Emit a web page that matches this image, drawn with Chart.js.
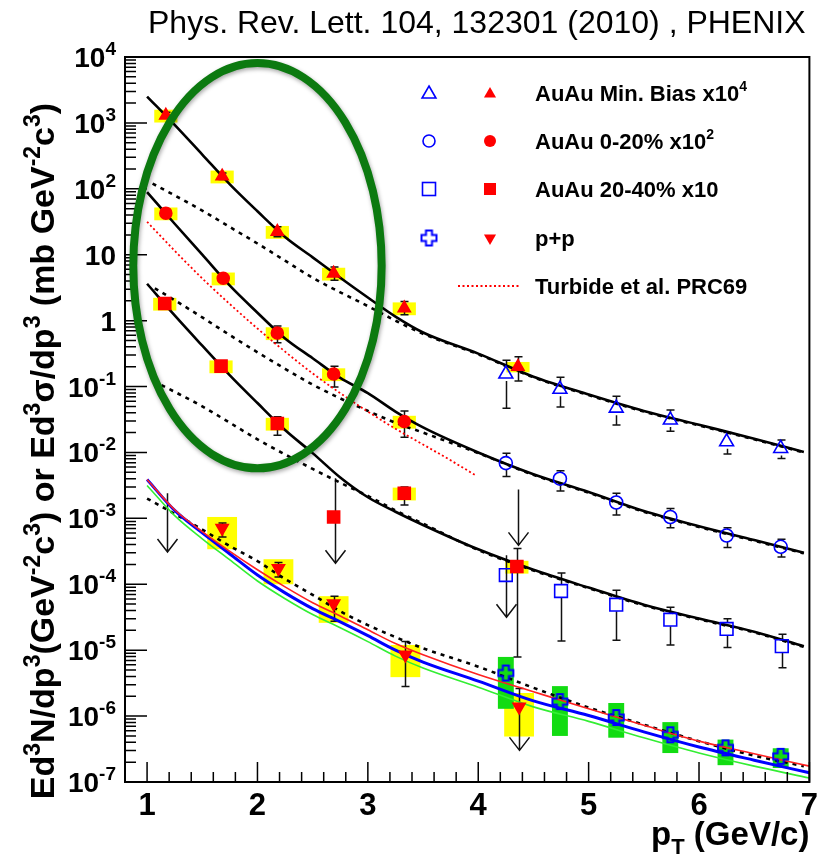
<!DOCTYPE html>
<html>
<head>
<meta charset="utf-8">
<script src="https://cdn.jsdelivr.net/npm/chart.js@4.4.1/dist/chart.umd.min.js"></script>
<style>
  html, body { margin: 0; padding: 0; background: #fff; }
  #wrap { width: 820px; height: 857px; position: relative; }
</style>
</head>
<body>
<div id="wrap"><canvas id="spectra"></canvas></div>
<script>
// ---- measured points ----
// AuAu Min. Bias x10^4
const ptMB = [1.17, 1.68, 2.18, 2.69, 3.33, 4.36];
const mbRed = [1.3e3, 155, 22.4, 5.2, 1.55, 0.20];
const mbRedLo = [1.2e3, 138, 18.8, 4.1, 1.23, 0.121];
const mbRedHi = [1.45e3, 174, 26.6, 6.5, 1.95, 0.283];
const mbRedSys = [0.22, 0.22, 0.22, 0.22, 0.22, 0.18];
const ptMBHi = [4.25, 4.74, 5.25, 5.74, 6.25, 6.74];
const mbBlue = [0.155, 0.091, 0.047, 0.031, 0.0145, 0.0115];
const mbBlueLo = [0.047, 0.049, 0.026, 0.021, 0.0095, 0.0081];
const mbBlueHi = [0.25, 0.138, 0.071, 0.044, 0.020, 0.0155];

// AuAu 0-20% x10^2
const pt020 = [1.17, 1.69, 2.18, 2.69, 3.33];
const c020Red = [42.7, 4.4, 0.65, 0.155, 0.0295];
const c020RedLo = [39.0, 4.0, 0.46, 0.098, 0.017];
const c020RedHi = [46.7, 4.9, 0.83, 0.204, 0.0427];
const c020RedSys = [0.22, 0.22, 0.22, 0.22, 0.22];
const pt020Hi = [4.25, 4.74, 5.25, 5.74, 6.25, 6.74];
const c020Blue = [0.0069, 0.0040, 0.00174, 0.00105, 0.00055, 0.00037];
const c020BlueLo = [0.0043, 0.0026, 0.00112, 0.00072, 0.00036, 0.00026];
const c020BlueHi = [0.0097, 0.0053, 0.0024, 0.00141, 0.00072, 0.00048];

// AuAu 20-40% x10
const pt2040 = [1.16, 1.67, 2.18, 2.69, 3.33, 4.35];
const c2040Red = [1.82, 0.204, 0.0275, 0.00105, 0.0024, 1.86e-4];
const c2040RedLo = [1.70, 0.187, 0.0182, null, 0.00159, 7.9e-6];
const c2040RedHi = [1.95, 0.222, 0.0347, null, 0.0030, 3.5e-4];
const c2040RedSys = [0.22, 0.22, 0.22, 0, 0.22, 0.22];
const pt2040Hi = [4.25, 4.75, 5.25, 5.74, 6.25, 6.75];
const c2040Blue = [1.38e-4, 7.9e-5, 4.9e-5, 2.9e-5, 2.1e-5, 1.15e-5];
const c2040BlueLo = [null, 1.38e-5, 1.42e-5, 1.2e-5, 1.1e-5, 5.4e-6];
const c2040BlueHi = [null, 1.48e-4, 8.1e-5, 4.5e-5, 3.0e-5, 1.74e-5];

// p+p
const ptPP = [1.68, 2.19, 2.69, 3.34, 4.37];
const ppRed = [7.1e-4, 1.74e-4, 5.1e-5, 8.5e-6, 1.38e-6];
const ppRedLo = [5.2e-4, 1.29e-4, 2.75e-5, 2.8e-6, null];
const ppRedHi = [8.5e-4, 2.14e-4, 6.6e-5, 1.35e-5, null];
const ppRedSysLo = [3.4e-4, 1.0e-4, 2.6e-5, 3.9e-6, 4.9e-7];
const ppRedSysHi = [1.05e-3, 2.4e-4, 6.6e-5, 1.2e-5, 2.24e-6];
const ptPPHi = [4.25, 4.74, 5.25, 5.74, 6.24, 6.74];
const ppBlue = [4.5e-6, 1.66e-6, 9.5e-7, 5.2e-7, 3.3e-7, 2.45e-7];
const ppBlueSysLo = [1.29e-6, 5.0e-7, 4.7e-7, 2.75e-7, 1.8e-7, 1.63e-7];
const ppBlueSysHi = [7.9e-6, 2.85e-6, 1.58e-6, 8.1e-7, 4.4e-7, 3.25e-7];

// upper limits (arrows)
const limX = [1.18, 2.70, 4.25, 4.36, 4.37];
const limTop = [2.4e-3, 4.07e-3, 2.75e-4, 2.75e-3, 2.63e-6];
const limTip = [3.09e-4, 2.09e-4, 3.16e-5, 3.89e-4, 3.02e-7];
const limCap = [false, false, false, false, true];

// ---- curves ----
const ptFit = [1.0, 1.25, 1.5, 1.75, 2.0, 2.25, 2.5, 2.75, 3.0, 3.25, 3.5, 4.0, 4.5, 5.0, 5.5, 6.0, 6.5, 6.95];
const mbFit = [2.51e3, 933, 331, 117, 45.7, 18.6, 9.12, 4.47, 2.24, 1.15, 0.661, 0.316, 0.141, 0.0759, 0.0427, 0.0263, 0.0162, 0.0102];
const c020Fit = [89.1, 29.5, 10.0, 3.39, 1.32, 0.537, 0.269, 0.135, 0.0794, 0.0417, 0.0240, 0.0100, 0.00468, 0.00251, 0.00129, 7.59e-4, 4.68e-4, 3.02e-4];
const c2040Fit = [3.63, 1.20, 0.417, 0.148, 0.0562, 0.0219, 0.00977, 0.00417, 0.00209, 0.00126, 7.94e-4, 3.39e-4, 1.66e-4, 8.91e-5, 4.90e-5, 3.02e-5, 1.91e-5, 1.15e-5];

const ptMBDash = [1.05, 1.25, 1.5, 1.75, 2.0, 2.25, 2.5, 2.75, 3.0, 3.25, 3.5, 4.0, 4.5, 5.0, 5.5, 6.0, 6.5, 6.95];
const mbDash = [120, 79.4, 46.8, 26.3, 14.8, 8.13, 4.47, 2.69, 1.66, 1.0, 0.631, 0.309, 0.138, 0.0741, 0.0417, 0.0257, 0.0158, 0.0100];
const pt020Dash = [1.07, 1.25, 1.5, 1.75, 2.0, 2.25, 2.5, 2.75, 3.0, 3.25, 3.5, 4.0, 4.5, 5.0, 5.5, 6.0, 6.5, 6.95];
const c020Dash = [3.09, 2.04, 1.12, 0.603, 0.331, 0.186, 0.107, 0.0661, 0.0427, 0.0282, 0.0200, 0.00977, 0.00457, 0.00245, 0.00126, 7.41e-4, 4.57e-4, 2.95e-4];
const pt2040Dash = [1.13, 1.25, 1.5, 1.75, 2.0, 2.25, 2.5, 2.75, 3.0, 3.25, 3.5, 4.0, 4.5, 5.0, 5.5, 6.0, 6.5, 6.95];
const c2040Dash = [0.105, 0.0832, 0.0501, 0.0282, 0.0158, 0.00933, 0.00562, 0.00347, 0.00219, 0.00132, 8.32e-4, 3.31e-4, 1.62e-4, 8.71e-5, 4.79e-5, 2.95e-5, 1.86e-5, 1.12e-5];
const ppDash = [2.00e-3, 1.17e-3, 6.76e-4, 3.80e-4, 2.24e-4, 1.20e-4, 6.92e-5, 3.89e-5, 2.40e-5, 1.58e-5, 1.07e-5, 5.62e-6, 2.69e-6, 1.35e-6, 7.41e-7, 4.17e-7, 2.51e-7, 1.74e-7];

const ptNLO = [1.0, 1.25, 1.5, 1.75, 2.0, 2.25, 2.5, 2.75, 3.0, 3.25, 3.5, 4.0, 4.5, 5.0, 5.5, 6.0, 6.5, 7.0];
const nloBlue = [3.89e-3, 1.32e-3, 6.03e-4, 2.88e-4, 1.38e-4, 7.41e-5, 4.27e-5, 2.69e-5, 1.66e-5, 1.00e-5, 6.61e-6, 3.39e-6, 1.70e-6, 1.02e-6, 5.75e-7, 3.39e-7, 2.14e-7, 1.38e-7];
const nloGreen = [3.16e-3, 1.10e-3, 4.90e-4, 2.34e-4, 1.12e-4, 6.03e-5, 3.47e-5, 2.19e-5, 1.35e-5, 8.13e-6, 5.37e-6, 2.75e-6, 1.38e-6, 8.32e-7, 4.68e-7, 2.75e-7, 1.74e-7, 1.15e-7];
const nloRed = [3.89e-3, 1.35e-3, 6.31e-4, 3.16e-4, 1.66e-4, 9.12e-5, 5.25e-5, 3.31e-5, 2.04e-5, 1.26e-5, 8.51e-6, 4.27e-6, 2.34e-6, 1.29e-6, 7.24e-7, 4.17e-7, 2.69e-7, 1.74e-7];

const ptTurbide = [1.0, 1.25, 1.5, 1.75, 2.0, 2.25, 2.5, 2.75, 3.0, 3.25, 3.5, 3.75, 3.97];
const turbide = [31.6, 11.5, 4.37, 1.78, 0.759, 0.339, 0.158, 0.0794, 0.0417, 0.0229, 0.0132, 0.00759, 0.00457];

// ---- axes ----
const xTicks = [1, 2, 3, 4, 5, 6, 7];
const yTicks = [1e4, 1e3, 1e2, 1e1, 1, 1e-1, 1e-2, 1e-3, 1e-4, 1e-5, 1e-6, 1e-7];

const RED = '#ff0000', BLUE = '#0000ff', YELLOW = '#ffff00', GREEN_BOX = '#12dc12';
const FONT = '"Liberation Sans", Arial, Helvetica, sans-serif';

function pts(xs, ys) {
  return xs.map((x, i) => ({ x: x, y: ys[i] }));
}

function curve(xs, ys, color, width, dash) {
  return {
    data: pts(xs, ys), showLine: true, pointRadius: 0, borderColor: color,
    borderWidth: width, borderDash: dash || [], fill: false,
    cubicInterpolationMode: 'monotone', order: 5
  };
}

function marker(xs, ys, style, radius, fill, stroke, rot) {
  return {
    data: pts(xs, ys), showLine: false, pointStyle: style, pointRadius: radius,
    pointBackgroundColor: fill, pointBorderColor: stroke, pointBorderWidth: 1.6,
    pointRotation: rot || 0, order: 1
  };
}

// open cross marker as a small image
function crossImage(color) {
  const s = 19, c = document.createElement('canvas');
  c.width = s; c.height = s;
  const g = c.getContext('2d');
  const m = s / 2, L = 7.5, w = 3;
  g.beginPath();
  g.moveTo(m - w, m - L); g.lineTo(m + w, m - L); g.lineTo(m + w, m - w);
  g.lineTo(m + L, m - w); g.lineTo(m + L, m + w); g.lineTo(m + w, m + w);
  g.lineTo(m + w, m + L); g.lineTo(m - w, m + L); g.lineTo(m - w, m + w);
  g.lineTo(m - L, m + w); g.lineTo(m - L, m - w); g.lineTo(m - w, m - w);
  g.closePath();
  g.strokeStyle = color; g.lineWidth = 2; g.stroke();
  return c;
}
const crossImg = crossImage(BLUE);

const datasets = [
  marker(ptMB, mbRed, 'triangle', 7, RED, RED),
  marker(ptMBHi, mbBlue, 'triangle', 8, 'rgba(0,0,0,0)', BLUE),
  marker(pt020, c020Red, 'circle', 6, RED, RED),
  marker(pt020Hi, c020Blue, 'circle', 6.5, 'rgba(0,0,0,0)', BLUE),
  marker(pt2040, c2040Red, 'rect', 8.5, RED, RED),
  marker(pt2040Hi, c2040Blue, 'rect', 9, 'rgba(0,0,0,0)', BLUE),
  marker(ptPP, ppRed, 'triangle', 7, RED, RED, 180),
  marker(ptPPHi, ppBlue, crossImg, 9, BLUE, BLUE),
  curve(ptNLO, nloGreen, '#33ee33', 1.6),
  curve(ptNLO, nloRed, '#ff2222', 1.6),
  curve(ptNLO, nloBlue, BLUE, 3),
  curve(ptTurbide, turbide, RED, 1.8, [2, 2.5]),
  curve(ptFit, mbFit, '#000', 2.6),
  curve(ptFit, c020Fit, '#000', 2.6),
  curve(ptFit, c2040Fit, '#000', 2.6),
  curve(ptMBDash, mbDash, '#000', 2.6, [4, 5]),
  curve(pt020Dash, c020Dash, '#000', 2.6, [4, 5]),
  curve(pt2040Dash, c2040Dash, '#000', 2.6, [4, 5]),
  curve(ptFit, ppDash, '#000', 2.6, [4, 5])
];

// green ellipse annotation, given in data coordinates
const ellipseBox = { xMin: 0.875, xMax: 3.125, yMin: 5.75e-3, yMax: 8.1e3 };

function richText(ctx, parts, x, y, align) {
  let w = 0;
  parts.forEach(p => { ctx.font = p.f; w += ctx.measureText(p.t).width; });
  let cx = align === 'right' ? x - w : (align === 'center' ? x - w / 2 : x);
  ctx.textAlign = 'left';
  parts.forEach(p => {
    ctx.font = p.f;
    ctx.fillText(p.t, cx, y + (p.dy || 0));
    cx += ctx.measureText(p.t).width;
  });
}

function drawTri(ctx, x, y, r, down, fill, stroke) {
  const s = down ? -1 : 1;
  ctx.beginPath();
  ctx.moveTo(x, y - s * r);
  ctx.lineTo(x + r * 0.866, y + s * r * 0.5);
  ctx.lineTo(x - r * 0.866, y + s * r * 0.5);
  ctx.closePath();
  if (fill) { ctx.fillStyle = fill; ctx.fill(); }
  if (stroke) { ctx.strokeStyle = stroke; ctx.lineWidth = 1.6; ctx.stroke(); }
}

const physPlugin = {
  id: 'phys',
  beforeDatasetsDraw(chart) {
    const ctx = chart.ctx, xs = chart.scales.x, ys = chart.scales.y;
    const X = v => xs.getPixelForValue(v), Y = v => ys.getPixelForValue(v);
    ctx.save();
    // systematic boxes
    function relBoxes(xv, yv, rel, hw) {
      ctx.fillStyle = YELLOW;
      xv.forEach((x, i) => {
        if (!rel[i]) return;
        const y0 = Y(yv[i] * (1 + rel[i])), y1 = Y(yv[i] * (1 - rel[i]));
        ctx.fillRect(X(x - hw), y0, X(x + hw) - X(x - hw), y1 - y0);
      });
    }
    function absBoxes(xv, lo, hi, hw, color) {
      ctx.fillStyle = color;
      xv.forEach((x, i) => {
        const y0 = Y(hi[i]), y1 = Y(lo[i]);
        ctx.fillRect(X(x - hw), y0, X(x + hw) - X(x - hw), y1 - y0);
      });
    }
    relBoxes(ptMB, mbRed, mbRedSys, 0.105);
    relBoxes(pt020, c020Red, c020RedSys, 0.105);
    relBoxes(pt2040, c2040Red, c2040RedSys, 0.105);
    absBoxes(ptPP, ppRedSysLo, ppRedSysHi, 0.135, YELLOW);
    absBoxes(ptPPHi, ppBlueSysLo, ppBlueSysHi, 0.072, GREEN_BOX);

    // statistical error bars
    ctx.strokeStyle = '#111';
    ctx.lineWidth = 1.5;
    function bars(xv, yv, lo, hi, gap) {
      xv.forEach((x, i) => {
        if (lo[i] == null) return;
        const px = Math.round(X(x)) + 0.5, yc = Y(yv[i]);
        const yt = Y(hi[i]), yb = Y(lo[i]);
        ctx.beginPath();
        if (yc - gap > yt) { ctx.moveTo(px, yt); ctx.lineTo(px, yc - gap); }
        if (yc + gap < yb) { ctx.moveTo(px, yc + gap); ctx.lineTo(px, yb); }
        ctx.moveTo(px - 4, yt); ctx.lineTo(px + 4, yt);
        ctx.moveTo(px - 4, yb); ctx.lineTo(px + 4, yb);
        ctx.stroke();
      });
    }
    bars(ptMB, mbRed, mbRedLo, mbRedHi, 0);
    bars(ptMBHi, mbBlue, mbBlueLo, mbBlueHi, 7);
    bars(pt020, c020Red, c020RedLo, c020RedHi, 0);
    bars(pt020Hi, c020Blue, c020BlueLo, c020BlueHi, 6.5);
    bars(pt2040, c2040Red, c2040RedLo, c2040RedHi, 0);
    bars(pt2040Hi, c2040Blue, c2040BlueLo, c2040BlueHi, 6.5);
    bars(ptPP, ppRed, ppRedLo, ppRedHi, 0);

    // upper-limit arrows
    limX.forEach((x, i) => {
      const px = Math.round(X(x)) + 0.5, yt = Y(limTop[i]), yb = Y(limTip[i]);
      ctx.beginPath();
      ctx.moveTo(px, yt); ctx.lineTo(px, yb);
      ctx.moveTo(px - 10, yb - 13); ctx.lineTo(px, yb); ctx.lineTo(px + 10, yb - 13);
      if (limCap[i]) { ctx.moveTo(px - 4, yt); ctx.lineTo(px + 4, yt); }
      ctx.stroke();
    });
    ctx.restore();
  },
  afterDatasetsDraw(chart) {
    const ctx = chart.ctx, a = chart.chartArea, xs = chart.scales.x, ys = chart.scales.y;
    const X = v => xs.getPixelForValue(v), Y = v => ys.getPixelForValue(v);
    ctx.save();
    ctx.fillStyle = '#000';
    ctx.strokeStyle = '#000';

    // frame
    ctx.lineWidth = 2;
    ctx.strokeRect(a.left, a.top, a.right - a.left, a.bottom - a.top);

    // y ticks (inside)
    ctx.lineWidth = 1.5;
    ctx.beginPath();
    for (let e = -7; e <= 4; e++) {
      const yp = Y(Math.pow(10, e));
      ctx.moveTo(a.left, yp); ctx.lineTo(a.left + 22, yp);
      if (e < 4) {
        for (let m = 2; m <= 9; m++) {
          const ym = Y(m * Math.pow(10, e));
          ctx.moveTo(a.left, ym); ctx.lineTo(a.left + 11, ym);
        }
      }
    }
    // x ticks (inside)
    for (let k = 1; k <= 31; k++) {
      const v = 0.8 + k * 0.2;
      const xp = X(v);
      const major = Math.abs(v - Math.round(v)) < 1e-6;
      ctx.moveTo(xp, a.bottom); ctx.lineTo(xp, a.bottom - (major ? 20 : 10));
    }
    ctx.stroke();

    // tick labels
    ctx.textBaseline = 'alphabetic';
    const yl = 'bold 28px ' + FONT, ysup = 'bold 19px ' + FONT;
    yTicks.forEach(v => {
      const e = Math.round(Math.log10(v));
      const yp = Y(v) + 10;
      if (e === 0) richText(ctx, [{ t: '1', f: yl }], 116, yp, 'right');
      else if (e === 1) richText(ctx, [{ t: '10', f: yl }], 116, yp, 'right');
      else richText(ctx, [{ t: '10', f: yl }, { t: String(e), f: ysup, dy: -12 }], 116, yp, 'right');
    });
    const xl = 'bold 31px ' + FONT;
    xTicks.forEach(v => richText(ctx, [{ t: String(v), f: xl }], X(v), 815, 'center'));

    // axis titles
    const big = 'bold 33px ' + FONT, sub = 'bold 22px ' + FONT;
    richText(ctx, [{ t: 'p', f: big }, { t: 'T', f: sub, dy: 9 }, { t: ' (GeV/c)', f: big }], a.right, 845, 'right');
    const tf = 'bold 34px ' + FONT, ts = 'bold 23px ' + FONT, up = -14;
    ctx.save();
    ctx.translate(54, 451);
    ctx.rotate(-Math.PI / 2);
    richText(ctx, [
      { t: 'Ed', f: tf }, { t: '3', f: ts, dy: up }, { t: 'N/dp', f: tf }, { t: '3', f: ts, dy: up },
      { t: '(GeV', f: tf }, { t: '-2', f: ts, dy: up }, { t: 'c', f: tf }, { t: '3', f: ts, dy: up },
      { t: ') or Ed', f: tf }, { t: '3', f: ts, dy: up }, { t: '\u03c3/dp', f: tf }, { t: '3', f: ts, dy: up },
      { t: ' (mb GeV', f: tf }, { t: '-2', f: ts, dy: up }, { t: 'c', f: tf }, { t: '3', f: ts, dy: up }, { t: ')', f: tf }
    ], 0, 0, 'center');
    ctx.restore();

    // top reference
    richText(ctx, [{ t: 'Phys. Rev. Lett. 104, 132301 (2010) , PHENIX', f: '32px ' + FONT }], 148, 33, 'left');

    // legend
    const lx1 = 429, lx2 = 490, lt = 535, rows = [93, 141, 189, 238, 286];
    const lf = 'bold 22px ' + FONT, ls = 'bold 14px ' + FONT;
    drawTri(ctx, lx1, rows[0] + 1, 8, false, null, BLUE);
    drawTri(ctx, lx2, rows[0] + 1, 7, false, RED, null);
    ctx.beginPath(); ctx.arc(lx1, rows[1], 6, 0, 2 * Math.PI);
    ctx.strokeStyle = BLUE; ctx.lineWidth = 1.6; ctx.stroke();
    ctx.beginPath(); ctx.arc(lx2, rows[1], 6, 0, 2 * Math.PI); ctx.fillStyle = RED; ctx.fill();
    ctx.strokeRect(lx1 - 6.5, rows[2] - 6.5, 13, 13);
    ctx.fillRect(lx2 - 6, rows[2] - 6, 12, 12);
    ctx.drawImage(crossImg, lx1 - 9.5, rows[3] - 9.5);
    drawTri(ctx, lx2, rows[3], 7, true, RED, null);
    ctx.beginPath(); ctx.setLineDash([2, 2.5]); ctx.strokeStyle = RED; ctx.lineWidth = 1.8;
    ctx.moveTo(458, rows[4]); ctx.lineTo(520, rows[4]); ctx.stroke(); ctx.setLineDash([]);
    ctx.fillStyle = '#000';
    richText(ctx, [{ t: 'AuAu Min. Bias x10', f: lf }, { t: '4', f: ls, dy: -10 }], lt, rows[0] + 8, 'left');
    richText(ctx, [{ t: 'AuAu 0-20% x10', f: lf }, { t: '2', f: ls, dy: -10 }], lt, rows[1] + 8, 'left');
    richText(ctx, [{ t: 'AuAu 20-40% x10', f: lf }], lt, rows[2] + 8, 'left');
    richText(ctx, [{ t: 'p+p', f: lf }], lt, rows[3] + 8, 'left');
    richText(ctx, [{ t: 'Turbide et al. PRC69', f: lf }], lt, rows[4] + 8, 'left');

    // green ellipse
    const ex0 = X(ellipseBox.xMin), ex1 = X(ellipseBox.xMax);
    const ey0 = Y(ellipseBox.yMax), ey1 = Y(ellipseBox.yMin);
    ctx.beginPath();
    ctx.ellipse((ex0 + ex1) / 2, (ey0 + ey1) / 2, (ex1 - ex0) / 2, (ey1 - ey0) / 2, 0, 0, 2 * Math.PI);
    ctx.shadowColor = 'rgba(0,0,0,0.35)';
    ctx.shadowBlur = 4; ctx.shadowOffsetX = 1; ctx.shadowOffsetY = 2;
    ctx.strokeStyle = '#0c7a10';
    ctx.lineWidth = 8;
    ctx.stroke();
    ctx.restore();
  }
};

new Chart(document.getElementById('spectra'), {
  type: 'scatter',
  data: { datasets: datasets },
  options: {
    responsive: true,
    maintainAspectRatio: false,
    animation: false,
    devicePixelRatio: 1,
    layout: { padding: { left: 125, right: 8, top: 57, bottom: 75 } },
    scales: {
      x: { type: 'linear', min: 0.8, max: 7, display: false },
      y: { type: 'logarithmic', min: 1e-7, max: 1e4, display: false }
    },
    plugins: { legend: { display: false }, tooltip: { enabled: false } }
  },
  plugins: [physPlugin]
});
</script>
</body>
</html>
